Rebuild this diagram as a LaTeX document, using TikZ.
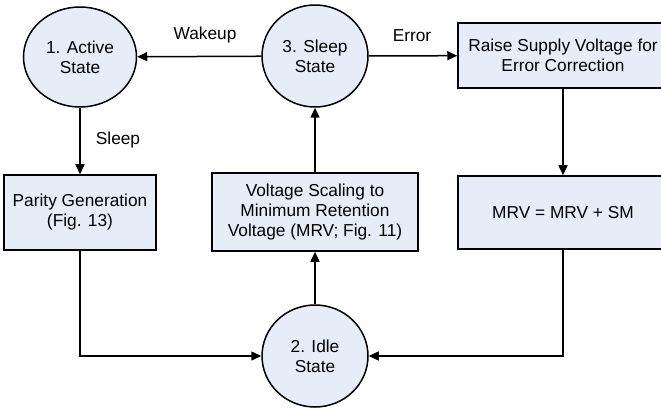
\documentclass[tikz,border=0pt]{standalone}
\usepackage{fontspec}
\setmainfont{Liberation Sans}
\usetikzlibrary{shapes.geometric,arrows.meta}
\definecolor{statefill}{RGB}{230,236,248}
\begin{document}
\begin{tikzpicture}[x=1pt,y=-1pt,line width=1.5pt,
		every node/.style={font=\fontsize{17.3}{20}\selectfont,align=center},
		state/.style={draw,fill=statefill,ellipse,inner sep=0pt,minimum width=106pt,minimum height=102pt},
		stepbox/.style={draw,fill=statefill,rectangle,inner sep=0pt},
		flow/.style={-{Triangle[length=10pt,width=9pt]}}]
		\useasboundingbox (0,0) rectangle (661,414);
		\node[state,minimum width=113pt,minimum height=100pt] (active) at (80,57) {1. Active\\State};
		\node[state] (sleep) at (315,56) {3. Sleep\\State};
		\node[state] (idle) at (315,356) {2. Idle\\State};
		\node[stepbox,minimum width=152pt,minimum height=75pt] (parity) at (80,212.5) {Parity Generation\\(Fig. 13)};
		\node[stepbox,minimum width=206pt,minimum height=78pt] (scaling) at (315,212) {Voltage Scaling to\\Minimum Retention\\Voltage (MRV; Fig. 11)};
		\node[stepbox,minimum width=210pt,minimum height=65pt] (raise) at (563,55.5) {Raise Supply Voltage for\\Error Correction};
		\node[stepbox,minimum width=210pt,minimum height=73pt] (margin) at (563,212.5) {MRV = MRV + SM};
		% transitions
		\draw[flow] (sleep) -- (active);
		\draw[flow] (sleep) -- (raise);
		\draw[flow] (active) -- (parity);
		\draw[flow] (raise) -- (margin);
		\draw[flow] (scaling) -- (sleep);
		\draw[flow] (idle) -- (scaling);
		\draw[flow] (parity.south) |- (idle.west);
		\draw[flow] (margin.south) |- (idle.east);
		\node (wakeuplbl) at (205,35) {Wakeup};
		\node (errorlbl) at (412,36) {Error};
		\node (sleeplbl) at (118,140) {Sleep};
	\end{tikzpicture}
\end{document}
